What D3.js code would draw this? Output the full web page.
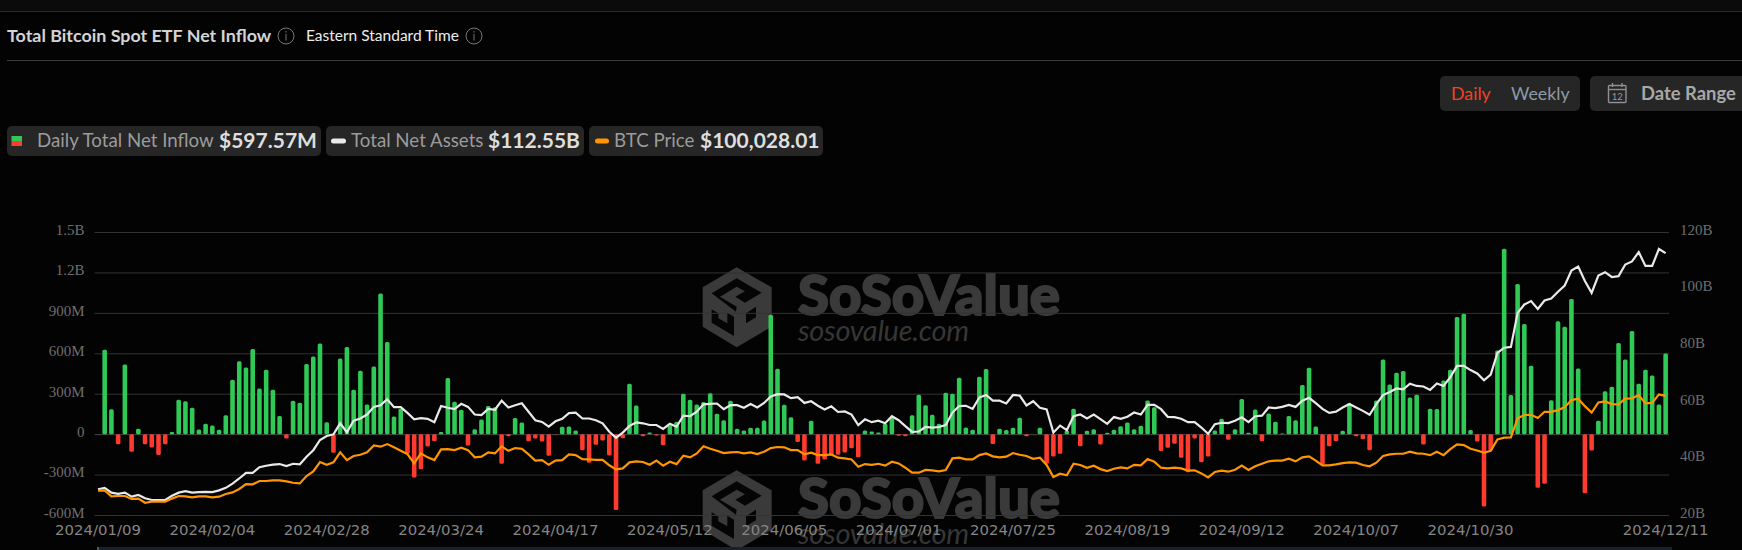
<!DOCTYPE html>
<html>
<head>
<meta charset="utf-8">
<script src="https://cdnjs.cloudflare.com/ajax/libs/d3/7.8.5/d3.min.js"></script>
<style>
  html, body { margin: 0; padding: 0; background: #030303; overflow: hidden; }
  svg { display: block; font-family: Lato, sans-serif; }
</style>
</head>
<body>
<div id="chart"></div>
<script>
// Daily net inflow in $M, first trading day has no bar
const netInflow = [
  null,626,185,-75,517,-130,40,-75,-100,-155,-75,15,255,245,195,35,77,64,32,141,
  403,540,495,631,339,478,329,134,-32,247,233,520,577,673,89,-139,562,646,329,470,
  220,502,1044,683,131,188,-146,-322,-260,-92,-52,15,416,240,181,-84,37,109,208,200,
  -220,-15,119,87,-52,-32,-55,-160,-3,54,57,27,-119,-213,-79,-47,-158,-562,-30,374,
  213,-15,12,-10,-82,64,92,300,255,220,238,304,151,104,247,40,27,47,47,101,
  886,485,218,126,-59,-196,99,-220,-188,-158,-153,-136,-104,-171,27,20,12,77,121,-12,
  -15,141,292,215,143,77,307,300,418,50,32,426,483,-74,40,30,47,121,-15,0,
  47,-220,-166,-146,27,188,-89,25,37,-77,10,32,59,87,37,62,250,200,-126,-101,
  -72,-176,-282,-32,-208,-166,27,114,-42,37,260,10,183,-52,153,92,5,134,104,364,
  493,57,-225,-89,-52,25,230,-15,-37,-119,250,554,369,455,468,272,292,-77,188,186,
  398,478,869,893,30,-54,-537,-121,621,1376,290,1114,817,507,-398,-369,252,837,797,1002,
  488,-438,-121,99,319,351,676,554,765,374,478,436,220,597.57
];

// Total net assets in $B
const netAssets = [
  29.1,29.6,27.9,27.5,27.9,26.5,27.1,25.9,25.3,25.3,25.3,26.8,27.9,28.4,27.9,28.1,28.2,28.1,28.7,29.6,
  31.1,32.9,34.9,34.9,36.9,37.4,37.8,38.0,37.3,38.1,37.9,40.6,42.9,46.5,47.9,48.5,52.4,49.2,53.3,54.1,
  55.5,58.2,58.8,60.9,58.1,58.1,56.1,53.8,54.2,54.0,52.8,58.5,57.9,57.4,59.3,58.2,55.5,55.3,57.5,57.2,
  60.4,58.0,58.8,59.5,56.5,53.5,52.9,51.2,53.1,54.0,56.0,56.2,54.1,54.1,53.5,52.4,49.4,47.3,49.1,51.5,
  52.7,52.4,51.8,51.8,50.4,52.2,51.2,55.1,54.9,56.5,59.1,59.3,59.4,57.4,58.8,58.8,57.9,59.2,58.0,59.6,
  61.9,62.7,62.6,61.3,61.6,59.6,60.2,58.6,57.3,58.4,56.4,56.6,55.5,51.8,53.8,52.8,53.3,52.4,54.9,53.5,
  51.4,49.4,49.5,51.1,50.9,51.1,51.8,56.2,58.5,58.6,57.5,61.5,62.4,60.4,60.4,59.4,62.4,62.2,58.7,60.2,
  57.9,57.3,49.1,51.6,50.0,54.9,55.5,54.1,55.5,53.9,52.2,54.6,54.0,54.7,56.2,55.5,58.9,58.9,57.4,54.7,
  54.6,54.0,52.8,52.8,50.9,48.7,52.1,52.6,52.5,53.3,54.5,52.8,54.9,55.1,58.0,57.8,58.2,58.9,58.2,60.4,
  61.4,59.5,57.5,56.1,56.5,58.0,59.2,58.0,56.8,55.4,59.2,62.4,63.5,64.7,64.4,66.4,65.6,65.4,64.2,66.5,
  65.6,68.7,72.7,72.7,71.2,70.0,67.6,69.6,77.3,79.1,79.4,91.4,94.4,95.6,92.8,95.8,96.5,98.9,101.1,106.4,
  107.8,102.7,98.5,104.6,105.8,104.1,104.4,108.5,109.6,112.9,108.0,108.0,114.0,112.55
];

// BTC price in $K
const btcPrice = [
  45.1,45.3,41.8,42.0,42.0,40.3,40.5,38.1,38.7,38.7,38.7,40.5,42.0,41.8,41.2,41.8,41.8,41.2,41.6,43.2,
  44.1,46.1,48.9,48.8,50.7,50.7,51.1,51.1,50.5,49.7,49.3,53.6,56.3,61.7,60.1,61.5,67.3,62.8,65.2,65.9,
  67.3,71.3,70.6,72.1,70.2,68.2,66.3,60.9,66.7,64.4,62.8,69.0,69.2,68.6,70.0,68.6,64.4,64.8,67.3,66.7,
  70.8,68.2,69.8,69.4,66.1,62.5,62.8,60.1,62.5,62.8,66.1,65.7,63.4,63.2,63.0,63.0,59.8,57.4,58.0,61.5,
  62.1,61.7,60.1,62.5,59.6,61.9,60.5,65.4,64.4,66.7,70.8,69.4,68.2,66.9,67.3,67.5,66.7,67.3,66.3,67.7,
  69.8,70.4,70.2,68.6,68.6,66.1,67.1,65.7,65.7,66.1,64.2,63.8,63.2,59.0,60.5,60.1,60.7,59.6,61.9,60.9,
  58.4,55.5,55.5,57.1,56.9,56.3,57.1,63.8,64.2,63.2,63.2,65.7,66.7,65.0,64.4,64.8,66.9,65.9,65.2,63.6,
  64.2,60.0,53.0,54.9,54.0,60.7,60.0,58.4,59.6,57.6,56.5,57.8,58.6,58.0,60.1,59.8,63.4,61.9,58.4,58.0,
  58.4,58.0,56.7,56.9,55.1,52.8,55.9,56.7,56.1,57.2,59.6,57.1,59.2,60.7,62.1,62.5,62.5,63.6,62.1,64.4,
  65.0,62.5,59.8,59.8,60.3,61.1,61.5,61.3,60.0,59.2,61.3,65.2,66.1,66.5,66.5,67.7,66.7,66.5,65.7,67.7,
  65.7,69.2,71.9,71.5,69.4,68.4,67.1,68.2,74.8,75.8,76.0,87.0,88.9,89.1,87.2,90.8,90.8,91.8,93.5,97.6,
  98.4,94.1,90.4,96.2,96.8,95.3,95.1,98.4,98.6,100.5,95.7,96.0,100.9,100.028
];

const xTickIndex = [0, 17, 34, 51, 68, 85, 102, 119, 136, 153, 170, 187, 204, 233];
const xTickLabels = ["2024/01/09", "2024/02/04", "2024/02/28", "2024/03/24", "2024/04/17", "2024/05/12", "2024/06/05",
  "2024/07/01", "2024/07/25", "2024/08/19", "2024/09/12", "2024/10/07", "2024/10/30", "2024/12/11"];
const yTickValues = [-600, -300, 0, 300, 600, 900, 1200, 1500];
const yTickLabels = ["-600M", "-300M", "0", "300M", "600M", "900M", "1.2B", "1.5B"];
const rightTickValues = [20, 40, 60, 80, 100, 120];

const W = 1742, H = 550;
const plot = { left: 94.6, right: 1669, top: 232, bottom: 515 };
const GREEN = "#30c955", RED = "#ff3b30", ORANGE = "#ff9500", WHITE = "#e9e9e9";

const svg = d3.select("#chart").append("svg").attr("width", W).attr("height", H);

// 1. Page furniture
svg.append("rect").attr("width", W).attr("height", 11).attr("fill", "#0b0b0b");
svg.append("line").attr("x1", 0).attr("x2", W).attr("y1", 11.5).attr("y2", 11.5).attr("stroke", "#2b2b2b");
svg.append("line").attr("x1", 7).attr("x2", W).attr("y1", 60.5).attr("y2", 60.5).attr("stroke", "#3c3c3c");

svg.append("text").attr("x", 7).attr("y", 41.5).attr("fill", "#d4d4d4").attr("font-size", 17.9).attr("font-weight", 700)
  .text("Total Bitcoin Spot ETF Net Inflow");
svg.append("text").attr("x", 306).attr("y", 41).attr("fill", "#ededed").attr("font-size", 15.5)
  .text("Eastern Standard Time");

function infoIcon(cx, cy) {
  const g = svg.append("g").attr("stroke", "#777").attr("fill", "none");
  g.append("circle").attr("cx", cx).attr("cy", cy).attr("r", 8);
  g.append("line").attr("x1", cx).attr("x2", cx).attr("y1", cy - 2).attr("y2", cy + 4.5);
  g.append("line").attr("x1", cx).attr("x2", cx).attr("y1", cy - 5).attr("y2", cy - 3.5);
}
infoIcon(286, 36);
infoIcon(474, 36);

// Buttons
svg.append("rect").attr("x", 1440).attr("y", 76).attr("width", 140).attr("height", 35).attr("rx", 5).attr("fill", "#262626");
svg.append("rect").attr("x", 1590).attr("y", 76).attr("width", 160).attr("height", 35).attr("rx", 5).attr("fill", "#262626");
svg.append("text").attr("x", 1451).attr("y", 100).attr("fill", "#f4411f").attr("font-size", 17.8).text("Daily");
svg.append("text").attr("x", 1511).attr("y", 100).attr("fill", "#8e99a6").attr("font-size", 17.8).text("Weekly");
svg.append("text").attr("x", 1641).attr("y", 100).attr("fill", "#a8a8a8").attr("font-size", 18.4).attr("font-weight", 700).text("Date Range");

const cal = svg.append("g").attr("transform", "translate(1608,83)").attr("stroke", "#8f8f8f").attr("fill", "none").attr("stroke-width", 1.4);
cal.append("rect").attr("x", 0.5).attr("y", 2.5).attr("width", 17.5).attr("height", 17).attr("rx", 1);
cal.append("line").attr("x1", 0.5).attr("x2", 18).attr("y1", 6.5).attr("y2", 6.5);
cal.append("line").attr("x1", 4.5).attr("x2", 4.5).attr("y1", 0).attr("y2", 4);
cal.append("line").attr("x1", 14).attr("x2", 14).attr("y1", 0).attr("y2", 4);
cal.append("text").attr("x", 9.2).attr("y", 17).attr("text-anchor", "middle").attr("font-size", 9.5).attr("stroke", "none").attr("fill", "#9a9a9a").text("12");

// 2. Legend chips
const chips = [
  { x: 7, w: 314, label: "Daily Total Net Inflow", lx: 37, value: "$597.57M", vx: 219 },
  { x: 326, w: 258, label: "Total Net Assets", lx: 351, value: "$112.55B", vx: 488 },
  { x: 589, w: 234, label: "BTC Price", lx: 614, value: "$100,028.01", vx: 700 }
];
chips.forEach(c => {
  svg.append("rect").attr("x", c.x).attr("y", 126).attr("width", c.w).attr("height", 30).attr("rx", 5).attr("fill", "#262626");
  svg.append("text").attr("x", c.lx).attr("y", 147).attr("fill", "#9b9b9b").attr("font-size", 18.7).text(c.label);
  svg.append("text").attr("x", c.vx).attr("y", 148).attr("fill", "#dedede").attr("font-size", 21).attr("font-weight", 700).text(c.value);
});
svg.append("rect").attr("x", 11.5).attr("y", 136).attr("width", 10.5).attr("height", 5).attr("fill", GREEN);
svg.append("rect").attr("x", 11.5).attr("y", 141).attr("width", 10.5).attr("height", 5).attr("fill", RED);
svg.append("rect").attr("x", 331).attr("y", 138.5).attr("width", 15).attr("height", 5).attr("rx", 2.5).attr("fill", WHITE);
svg.append("rect").attr("x", 595).attr("y", 138.5).attr("width", 14).attr("height", 5).attr("rx", 2.5).attr("fill", ORANGE);

// 3. Watermarks, behind the grid
function watermark(dy) {
  const g = svg.append("g").attr("transform", `translate(0,${dy})`);
  const logo = g.append("g").attr("transform", "translate(690,260) scale(0.3333)");
  logo.append("path").attr("d", "M140 22L245 82L245 200L140 262L38 200L38 82Z").attr("fill", "#3a3a3a");
  logo.append("path").attr("d", "M65 100L140 55L215 98L165 128L136 110L165 94L140 80L90 110L140 140L138 155Z").attr("fill", "#050505");
  logo.append("path").attr("d", "M65 148L85 160L85 175L112 190L112 158L132 170L132 228L65 188Z").attr("fill", "#050505");
  logo.append("path").attr("d", "M168 160L198 140L198 172L168 190Z").attr("fill", "#050505");
  g.append("text").attr("x", 798).attr("y", 315).attr("fill", "#3a3a3a").attr("stroke", "#3a3a3a").attr("stroke-width", 2)
    .attr("font-size", 56).attr("font-weight", 900)
    .attr("textLength", 262).attr("lengthAdjust", "spacingAndGlyphs").text("SoSoValue");
  g.append("text").attr("x", 798).attr("y", 341).attr("fill", "#363636").attr("font-size", 29).attr("font-style", "italic")
    .attr("textLength", 171).text("sosovalue.com");
}
watermark(0);
watermark(203);

// 4. Scales
const x = d3.scaleBand()
  .domain(d3.range(netAssets.length))
  .range([plot.left, plot.right])
  .paddingInner(0.32)
  .paddingOuter(0.16);
const cx = i => x(i) + x.bandwidth() / 2;

const y = d3.scaleLinear().domain([-600, 1500]).range([plot.bottom, plot.top]);
const yAssets = d3.scaleLinear().domain([20, 120]).range([plot.bottom, plot.top]);
const yBtc = d3.scaleLinear().domain([31, 195]).range([plot.bottom, plot.top]); // hidden axis

// 5. Axes
const gridColor = "#333";
svg.append("g")
  .attr("transform", `translate(${plot.left},0)`)
  .call(d3.axisLeft(y).tickValues(yTickValues).tickFormat((d, i) => yTickLabels[i]).tickSize(0).tickPadding(10))
  .call(g => g.select(".domain").remove())
  .call(g => g.selectAll(".tick").append("line")
    .attr("x2", plot.right - plot.left)
    .attr("stroke", d => d === 0 ? "#484848" : gridColor))
  .call(g => g.selectAll("text")
    .attr("y", -2.5)
    .attr("fill", "#6e6e6e")
    .attr("font-family", "'Liberation Serif', serif")
    .attr("font-size", 15));

svg.append("g")
  .attr("transform", `translate(${plot.right},0)`)
  .call(d3.axisRight(yAssets).tickValues(rightTickValues).tickFormat(d => d + "B").tickSize(0).tickPadding(11))
  .call(g => g.select(".domain").remove())
  .call(g => g.selectAll("text")
    .attr("y", -2.5)
    .attr("fill", "#6e6e6e")
    .attr("font-family", "'Liberation Serif', serif")
    .attr("font-size", 15));

svg.append("g")
  .attr("transform", `translate(0,${plot.bottom})`)
  .call(d3.axisBottom(x).tickValues(xTickIndex).tickFormat((d, i) => xTickLabels[i]).tickSize(0).tickPadding(9))
  .call(g => g.select(".domain").remove())
  .call(g => g.selectAll("text")
    .attr("fill", "#858585")
    .attr("font-family", "'DejaVu Sans', sans-serif")
    .attr("font-size", 14.9));

// 6. Bars
svg.append("g")
  .selectAll("rect")
  .data(netInflow.map((v, i) => ({ v, i })).filter(d => d.v !== null && d.v !== 0))
  .enter()
  .append("rect")
  .attr("x", d => x(d.i))
  .attr("y", d => y(Math.max(d.v, 0)))
  .attr("width", x.bandwidth())
  .attr("height", d => Math.abs(y(d.v) - y(0)))
  .attr("rx", 1.5)
  .attr("fill", d => d.v >= 0 ? GREEN : RED);

// 7. Lines
const assetsLine = d3.line().x((d, i) => cx(i)).y(d => yAssets(d));
const btcLine = d3.line().x((d, i) => cx(i)).y(d => yBtc(d));
svg.append("path").datum(netAssets).attr("d", assetsLine).attr("fill", "none").attr("stroke", WHITE).attr("stroke-width", 2.2);
svg.append("path").datum(btcPrice).attr("d", btcLine).attr("fill", "none").attr("stroke", ORANGE).attr("stroke-width", 2.2);

// 8. Slider edge at the bottom of the page
svg.append("rect").attr("x", 99).attr("y", 547).attr("width", 1573).attr("height", 3).attr("fill", "#18222f");
svg.append("rect").attr("x", 97).attr("y", 547).attr("width", 2).attr("height", 3).attr("fill", "#555");
</script>
</body>
</html>
